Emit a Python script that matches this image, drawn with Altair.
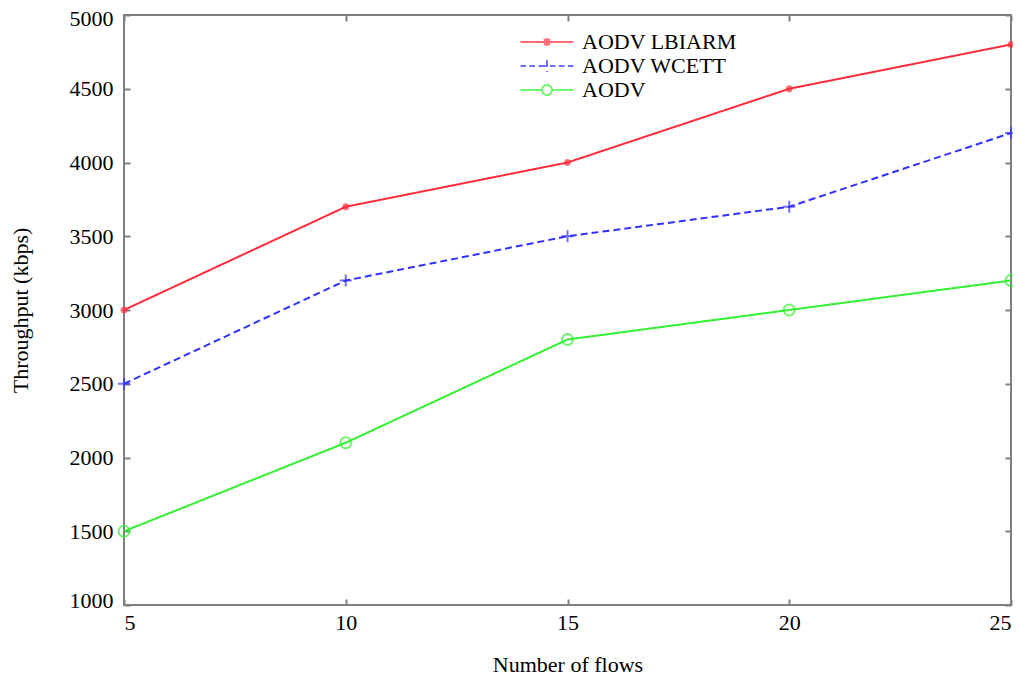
import altair as alt
import pandas as pd

# ---- data ----
flows = [5, 10, 15, 20, 25]
lbiarm = [3000, 3700, 4000, 4500, 4800]
wcett = [2500, 3200, 3500, 3700, 4200]
aodv = [1500, 2100, 2800, 3000, 3200]
series_names = ["AODV LBIARM", "AODV WCETT", "AODV"]
colors = ["#ff2d3c", "#3232ff", "#32f032"]
y_ticks = [1000, 1500, 2000, 2500, 3000, 3500, 4000, 4500, 5000]

rows = []
for name, vals in zip(series_names, [lbiarm, wcett, aodv]):
    for f, v in zip(flows, vals):
        rows.append({"flows": f, "throughput": v, "series": name})
df = pd.DataFrame(rows)

W, H = 887, 590
FONT = "Liberation Serif"
FS = 22
GREY = "#808080"
INWARD = {"expr": "-6"}

xscale = alt.Scale(domain=[5, 25], nice=False, zero=False)
yscale = alt.Scale(domain=[1000, 5000], nice=False, zero=False)
color_scale = alt.Scale(domain=series_names, range=colors)

# marker shapes
ASTER = "M-1,0L1,0M0,-1L0,1M-0.7,-0.7L0.7,0.7M-0.7,0.7L0.7,-0.7"
PLUS = "M-1,0L1,0M0,-1L0,1"

# legend symbols (line + marker), unit = 5 px with symbolSize 100
LEG_RED = "M-5.3,0L5.3,0M-0.8,0L0.8,0M0,-0.8L0,0.8M-0.6,-0.6L0.6,0.6M-0.6,0.6L0.6,-0.6"
LEG_BLUE = ("M-5.3,0L-4.2,0M-3.5,0L-2.4,0M-1.7,0L-0.6,0M0.6,0L1.7,0M2.4,0L3.5,0M4.2,0L5.3,0"
            "M-1.2,0L1.2,0M0,-1.2L0,1.2")
LEG_GREEN = "M-5.3,0L-1,0M1,0L5.3,0M-1,0A1,1 0 1,1 1,0A1,1 0 1,1 -1,0"

base = alt.Chart(df)

leg = alt.Legend(orient="none", legendX=412, legendY=16, title=None,
                 labelFont=FONT, labelFontSize=FS, labelColor="black",
                 symbolSize=100, symbolStrokeWidth=2, labelOffset=24,
                 rowPadding=2, padding=0)

legend_layer = base.mark_point(size=0, filled=False, strokeWidth=2).encode(
    x=alt.X("flows:Q", scale=xscale, axis=None),
    y=alt.Y("throughput:Q", scale=yscale, axis=None),
    color=alt.Color("series:N", scale=color_scale, legend=leg),
    shape=alt.Shape("series:N",
                    scale=alt.Scale(domain=series_names,
                                    range=[LEG_RED, LEG_BLUE, LEG_GREEN]),
                    legend=leg),
)

lines = base.mark_line(strokeWidth=2).encode(
    x=alt.X("flows:Q", scale=xscale,
            axis=alt.Axis(orient="bottom", values=flows, ticks=True, tickSize=INWARD,
                          tickColor=GREY, tickWidth=2, domain=False,
                          grid=False, labelFont=FONT, labelFontSize=FS,
                          labelColor="black", labelPadding=13,
                          title="Number of flows", titleFont=FONT, titleFontSize=FS,
                          titleFontWeight="normal", titleColor="black",
                          titlePadding=21)),
    y=alt.Y("throughput:Q", scale=yscale,
            axis=alt.Axis(orient="left", values=y_ticks, format="d", ticks=True,
                          tickSize=INWARD, tickColor=GREY, tickWidth=2, domain=False,
                          grid=False, labelFont=FONT, labelFontSize=FS,
                          labelColor="black", labelPadding=17,
                          labelFlush=True, labelFlushOffset=7,
                          title="Throughput (kbps)", titleFont=FONT, titleFontSize=FS,
                          titleFontWeight="normal", titleColor="black",
                          titlePadding=37)),
    color=alt.Color("series:N", scale=color_scale, legend=None),
    strokeDash=alt.StrokeDash("series:N",
                              scale=alt.Scale(domain=series_names,
                                              range=[[1, 0], [7, 4], [1, 0]]),
                              legend=None),
)


def edge_axis(orient, values):
    return alt.Axis(orient=orient, values=values, labels=False, domain=False,
                    grid=False, ticks=True, tickSize=INWARD, tickColor=GREY,
                    tickWidth=2, title=None)


pts_red = base.transform_filter(alt.datum.series == series_names[0]).mark_point(
    shape=ASTER, size=49, filled=False, strokeWidth=2).encode(
    x=alt.X("flows:Q", scale=xscale, axis=edge_axis("top", flows)),
    y=alt.Y("throughput:Q", scale=yscale, axis=edge_axis("right", y_ticks)),
    color=alt.Color("series:N", scale=color_scale, legend=None),
)

pts_blue = base.transform_filter(alt.datum.series == series_names[1]).mark_point(
    shape=PLUS, size=144, filled=False, strokeWidth=2).encode(
    x=alt.X("flows:Q", scale=xscale, axis=None),
    y=alt.Y("throughput:Q", scale=yscale, axis=None),
    color=alt.Color("series:N", scale=color_scale, legend=None),
)

pts_green = base.transform_filter(alt.datum.series == series_names[2]).mark_point(
    shape="circle", size=121, filled=False, strokeWidth=2).encode(
    x=alt.X("flows:Q", scale=xscale, axis=None),
    y=alt.Y("throughput:Q", scale=yscale, axis=None),
    color=alt.Color("series:N", scale=color_scale, legend=None),
)

chart = alt.layer(legend_layer, lines, pts_red, pts_blue, pts_green).resolve_axis(
    x="independent", y="independent"
).properties(
    width=W, height=H,
    autosize=alt.AutoSizeParams(type="none"),
    padding={"left": 116, "top": 7, "right": 2, "bottom": 72},
    background="white",
).configure_view(stroke=GREY, strokeWidth=2)

chart.save("out.html", embed_options={"renderer": "svg", "actions": False})
